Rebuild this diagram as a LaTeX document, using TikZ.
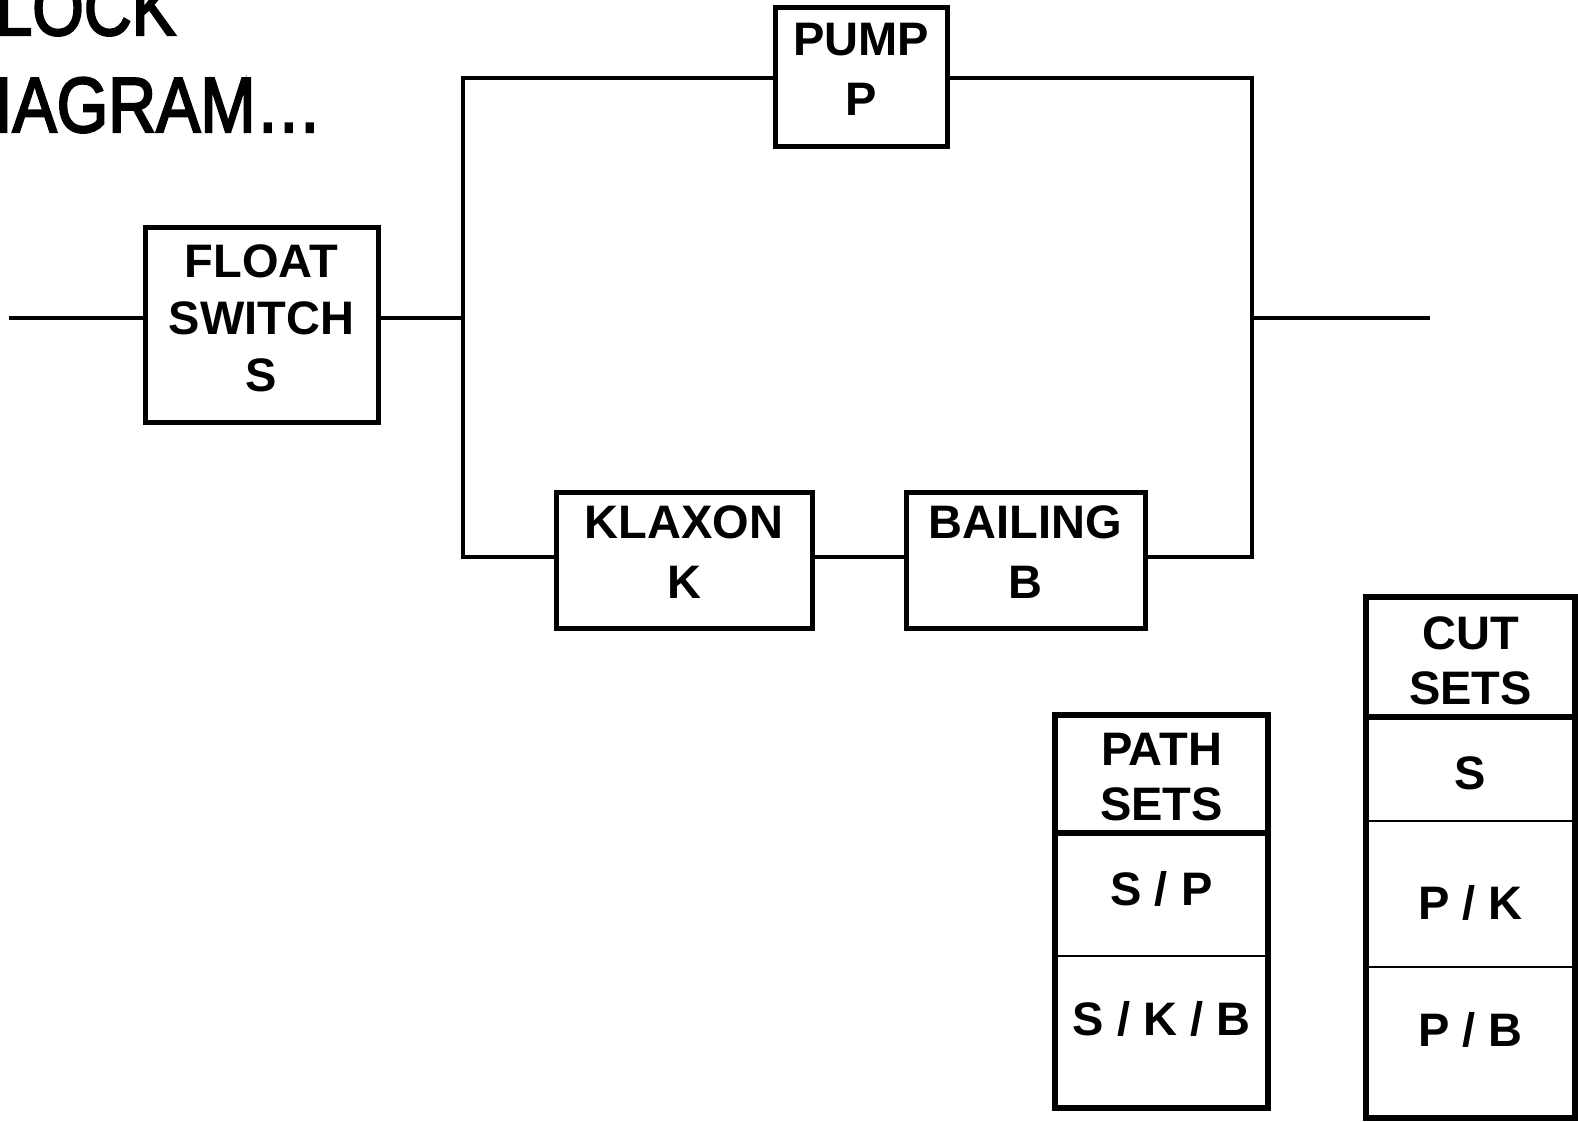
\documentclass[tikz,border=0pt]{standalone}
\usepackage{fontspec}
\setmainfont{Liberation Sans}
\newfontfamily\titlefont[FakeBold=3]{Liberation Sans}
\newcommand\xtrad[1]{\rule[-#1pt]{0pt}{#1pt}}
\begin{document}
\begin{tikzpicture}[x=1pt,y=-1pt,
  blk/.style={draw, line width=5pt, inner sep=0pt, align=center,
    font=\bfseries\fontsize{47}{60}\selectfont},
  lbl/.style={inner sep=0pt, align=center,
    font=\bfseries\fontsize{47}{55}\selectfont},
  wire/.style={line width=4.5pt},
  frame/.style={line width=5.5pt},
  hdrline/.style={line width=5.5pt},
  rowline/.style={line width=2.5pt},
  ttl/.style={inner sep=0pt, anchor=base west,
    font=\titlefont\fontsize{78}{97}\selectfont}]
\clip (0,0) rectangle (1578,1121);
\fill[white] (0,0) rectangle (1578,1121);

% title (cut off at the left edge)
\node[ttl] (t1) at (-49,35) {\scalebox{0.85}[1]{BLOCK}};
\node[ttl] (t2) at (-54,132) {\scalebox{0.85}[1]{DIAGRAM…}};

% blocks
\node[blk, font=\bfseries\fontsize{47}{57}\selectfont, minimum width=233pt, minimum height=195pt] (fs) at (261.5,324.5) {FLOAT\\SWITCH\\S\xtrad{12}};
\node[blk, minimum width=172pt, minimum height=138pt] (pump) at (861,77) {PUMP\\P\xtrad{15}};
\node[blk, minimum width=256pt, minimum height=136pt] (kl) at (684,560) {KLAXON\\K\xtrad{15}};
\node[blk, minimum width=239pt, minimum height=136pt] (ba) at (1025.5,560) {BAILING\\B\xtrad{15}};

% wiring points
\coordinate (in) at (9,318);
\coordinate (out) at (1430,318);
\coordinate (lt) at (463,78);
\coordinate (lb) at (463,557);
\coordinate (rt) at (1252,78);
\coordinate (rb) at (1252,557);

\draw[wire] (in) -- (in -| fs.west);
\draw[wire] (in -| fs.east) -- (in -| lt);
\draw[wire] (lt -| pump.west) -- (lt) -- (lb) -- (lb -| kl.west);
\draw[wire] (lt -| pump.east) -- (rt) -- (rb) -- (rb -| ba.east);
\draw[wire] (rb -| kl.east) -- (rb -| ba.west);
\draw[wire] (in -| rt) -- (out);

% path sets table
\draw[frame] (1055,715) rectangle (1268,1108);
\draw[hdrline] (1055,833) -- (1268,833);
\draw[rowline] (1055,956) -- (1268,956);
\node[lbl] (ph) at (1161.5,777.5) {PATH\\SETS};
\node[lbl, anchor=base] (psp) at (1161.5,905) {S / P};
\node[lbl, anchor=base] (pskb) at (1161.5,1035) {S / K / B};

% cut sets table
\draw[frame] (1366,597) rectangle (1575,1118);
\draw[hdrline] (1366,717) -- (1575,717);
\draw[rowline] (1366,821) -- (1575,821);
\draw[rowline] (1366,967) -- (1575,967);
\node[lbl] (ch) at (1470.5,660.5) {CUT\\SETS};
\node[lbl, anchor=base] (cs) at (1470.5,789) {S};
\node[lbl, anchor=base] (cpk) at (1470.5,919) {P / K};
\node[lbl, anchor=base] (cpb) at (1470.5,1046) {P / B};
\end{tikzpicture}
\end{document}
